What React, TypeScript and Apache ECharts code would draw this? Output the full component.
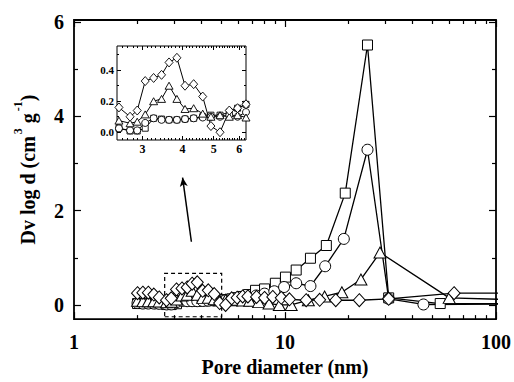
import React, { useEffect, useRef } from "react";
import * as echarts from "echarts";

// Pore diameters (nm) shared by the low-range (inset) points
const START_D = [2.0, 2.12, 2.25, 2.39];
const LOW_D = [2.535, 2.745, 2.89, 3.06, 3.25, 3.44, 3.63, 3.84, 4.07, 4.33, 4.62, 4.9, 5.23, 5.59, 5.93, 6.3];

// Squares
const SQ_START = [0.03, 0.03, 0.04, 0.03];
const SQ_LOW = [0.026, 0.008, 0.008, 0.026, 0.09, 0.085, 0.08, 0.08, 0.085, 0.09, 0.1, 0.11, 0.11, 0.13, 0.155, 0.18];
const SQ_HIGH_D = [6.7, 7.25, 8.0, 9.0, 10.05, 11.3, 13.2, 15.7, 19.3, 24.6, 31, 54.4, 150];
const SQ_HIGH = [0.22, 0.31, 0.34, 0.46, 0.59, 0.74, 0.99, 1.26, 2.37, 5.51, 0.15, 0.03, 0.03];

// Circles
const CI_START = [0.04, 0.03, 0.03, 0.03];
const CI_LOW = [0.025, 0.012, 0.012, 0.06, 0.09, 0.08, 0.08, 0.08, 0.085, 0.09, 0.095, 0.1, 0.1, 0.11, 0.1, 0.13];
const CI_HIGH_D = [6.7, 7.3, 8.0, 8.9, 9.9, 11.3, 13.2, 15.5, 19.0, 24.6, 31, 45.3, 150];
const CI_HIGH = [0.16, 0.2, 0.24, 0.29, 0.38, 0.46, 0.4, 0.82, 1.4, 3.29, 0.13, 0.01, 0.02];

// Triangles
const TR_START = [0.09, 0.08, 0.08, 0.08];
const TR_LOW = [0.075, 0.058, 0.068, 0.115, 0.2, 0.215, 0.3, 0.215, 0.15, 0.155, 0.12, 0.1, 0.11, 0.1, 0.11, 0.095];
const TR_HIGH_D = [6.8, 7.5, 8.4, 9.4, 10.7, 12.9, 15.4, 18.6, 22.9, 28.2, 60, 150];
const TR_HIGH = [0.09, 0.06, 0.03, 0.0, 0.0, 0.1, 0.18, 0.27, 0.54, 1.11, 0.15, 0.1];

// Diamonds
const DI_START = [0.25, 0.26, 0.26, 0.22];
const DI_LOW = [0.16, 0.1, 0.14, 0.33, 0.35, 0.37, 0.45, 0.48, 0.3, 0.31, 0.23, 0.04, 0.0, 0.14, 0.155, 0.18];
const DI_HIGH_D = [6.67, 7.33, 8.0, 8.75, 9.6, 10.5, 12.6, 14.6, 17.4, 22.5, 31, 63.3, 150];
const DI_HIGH = [0.18, 0.17, 0.15, 0.17, 0.15, 0.12, 0.1, 0.11, 0.1, 0.1, 0.13, 0.25, 0.25];

// Tick values
const X_MAJOR = [1, 10, 100];
const X_MINOR = [2, 3, 4, 5, 6, 7, 8, 9, 20, 30, 40, 50, 60, 70, 80, 90];
const Y_MAJOR = [0, 2, 4, 6];
const Y_MINOR = [1, 3, 5];
const INSET_X_MAJOR = [3, 4, 5, 6];
const INSET_Y_MAJOR = [0, 0.2, 0.4];
const INSET_Y_MINOR = [0.1, 0.3, 0.5];

// Annotation (data coordinates)
const ZOOM_BOX = [[2.69, -0.25], [5.01, 0.67]];
const ARROW = [[3.6, 1.34], [3.27, 2.7]];

const FONT = '"Liberation Serif", "Times New Roman", serif';

function pairs(d: number[], v: number[]) {
  return d.map((x, i) => [x, v[i]]);
}

export default function App() {
  const ref = useRef<HTMLDivElement>(null);

  useEffect(() => {
    if (!ref.current) return;
    const chart = echarts.init(ref.current, undefined, { renderer: "svg" });

    const insetMinor: number[] = [];
    for (let k = 26; k <= 62; k++) {
      if (k % 10 !== 0) insetMinor.push(k / 10);
    }

    const tickStyle = { color: "#000", width: 1.2 };
    const noLine = { show: false, onZero: false };

    const xMain = (pos: string, vals: number[], len: number, labels: boolean, extra: any = {}) => ({
      type: "log",
      logBase: 10,
      gridIndex: 0,
      min: 1,
      max: 100,
      position: pos,
      axisLine: noLine,
      splitLine: { show: false },
      axisTick: { show: true, inside: true, length: len, customValues: vals, lineStyle: tickStyle },
      axisLabel: labels
        ? {
            show: true,
            customValues: vals,
            margin: 13,
            fontFamily: FONT,
            fontWeight: "bold",
            fontSize: 20,
            color: "#000",
            formatter: (v: number) => String(Math.round(v)),
          }
        : { show: false },
      ...extra,
    });

    const yMain = (pos: string, vals: number[], len: number, labels: boolean, extra: any = {}) => ({
      type: "value",
      gridIndex: 0,
      min: -0.3,
      max: 6.04,
      position: pos,
      axisLine: noLine,
      splitLine: { show: false },
      axisTick: { show: true, inside: true, length: len, customValues: vals, lineStyle: tickStyle },
      axisLabel: labels
        ? {
            show: true,
            customValues: vals,
            margin: 10,
            fontFamily: FONT,
            fontWeight: "bold",
            fontSize: 20,
            color: "#000",
            formatter: (v: number) => String(Math.round(v)),
          }
        : { show: false },
      ...extra,
    });

    const xInset = (pos: string, vals: number[], len: number, labels: boolean) => ({
      type: "log",
      logBase: 10,
      gridIndex: 1,
      min: 2.5,
      max: 6.3,
      position: pos,
      axisLine: noLine,
      splitLine: { show: false },
      axisTick: { show: true, inside: true, length: len, customValues: vals, lineStyle: { color: "#000", width: 1 } },
      axisLabel: labels
        ? {
            show: true,
            customValues: vals,
            margin: 3,
            fontFamily: FONT,
            fontWeight: "bold",
            fontSize: 12,
            color: "#000",
            formatter: (v: number) => String(Math.round(v)),
          }
        : { show: false },
    });

    const yInset = (pos: string, vals: number[], len: number, labels: boolean) => ({
      type: "value",
      gridIndex: 1,
      min: -0.05,
      max: 0.556,
      position: pos,
      axisLine: noLine,
      splitLine: { show: false },
      axisTick: { show: true, inside: true, length: len, customValues: vals, lineStyle: { color: "#000", width: 1 } },
      axisLabel: labels
        ? {
            show: true,
            customValues: vals,
            margin: 3,
            fontFamily: FONT,
            fontWeight: "bold",
            fontSize: 11,
            color: "#000",
            formatter: (v: number) => v.toFixed(1),
          }
        : { show: false },
    });

    const mainSeries = (sym: string, size: any, d: number[], v: number[], extra: any = {}) => ({
      type: "line",
      xAxisIndex: 0,
      yAxisIndex: 0,
      data: pairs(d, v),
      symbol: sym,
      symbolSize: size,
      showAllSymbol: true,
      clip: true,
      lineStyle: { color: "#000", width: 1.3 },
      itemStyle: { color: "#fff", borderColor: "#000", borderWidth: 1 },
      emphasis: { disabled: true },
      ...extra,
    });

    const insetSeries = (sym: string, size: any, v: number[]) => ({
      type: "line",
      xAxisIndex: 8,
      yAxisIndex: 8,
      data: pairs(LOW_D, v),
      symbol: sym,
      symbolSize: size,
      showAllSymbol: true,
      clip: true,
      z: 10,
      lineStyle: { color: "#000", width: 1 },
      itemStyle: { color: "#fff", borderColor: "#000", borderWidth: 0.9 },
      emphasis: { disabled: true },
    });

    const option: any = {
      animation: false,
      backgroundColor: "#fff",
      grid: [
        {
          left: 74,
          top: 20,
          width: 424,
          height: 302,
          show: true,
          borderColor: "#000",
          borderWidth: 1.8,
          backgroundColor: "transparent",
        },
        {
          left: 117,
          top: 46,
          width: 129,
          height: 94,
          show: true,
          borderColor: "#000",
          borderWidth: 1,
          backgroundColor: "#fff",
        },
      ],
      xAxis: [
        xMain("bottom", X_MAJOR, 7, true, {
          name: "Pore diameter (nm)",
          nameLocation: "middle",
          nameGap: 37,
          nameTextStyle: { fontFamily: FONT, fontWeight: "bold", fontSize: 20, color: "#000" },
        }),
        xMain("bottom", X_MINOR, 4, false),
        xMain("top", X_MAJOR, 7, false),
        xMain("top", X_MINOR, 4, false),
        // inset axes (indices 4..)
        xInset("bottom", INSET_X_MAJOR, 4, true),
        xInset("bottom", insetMinor, 2, false),
        xInset("top", INSET_X_MAJOR, 4, false),
        xInset("top", insetMinor, 2, false),
        { type: "log", logBase: 10, gridIndex: 1, min: 2.5, max: 6.3, show: false, axisLine: { onZero: false } },
      ],
      yAxis: [
        yMain("left", Y_MAJOR, 7, true, {
          name: "{a|Dv log d (cm}{s|3}{a| g}{s|-1}{a|)}",
          nameLocation: "middle",
          nameGap: 36,
          nameRotate: 90,
          nameTextStyle: {
            rich: {
              a: { fontFamily: FONT, fontWeight: "bold", fontSize: 20, color: "#000", lineHeight: 26, verticalAlign: "bottom" },
              s: { fontFamily: FONT, fontWeight: "bold", fontSize: 12, color: "#000", lineHeight: 26, verticalAlign: "top", padding: [0, 0, 8, 2] },
            },
          },
        }),
        yMain("left", Y_MINOR, 4, false),
        yMain("right", Y_MAJOR, 7, false),
        yMain("right", Y_MINOR, 4, false),
        yInset("left", INSET_Y_MAJOR, 4, true),
        yInset("left", INSET_Y_MINOR, 2, false),
        yInset("right", INSET_Y_MAJOR, 4, false),
        yInset("right", INSET_Y_MINOR, 2, false),
        { type: "value", gridIndex: 1, min: -0.05, max: 0.556, show: false, axisLine: { onZero: false } },
      ],
      series: [
        mainSeries("rect", 10, [...START_D, ...LOW_D, ...SQ_HIGH_D], [...SQ_START, ...SQ_LOW, ...SQ_HIGH]),
        mainSeries("circle", 11, [...START_D, ...LOW_D, ...CI_HIGH_D], [...CI_START, ...CI_LOW, ...CI_HIGH]),
        mainSeries("triangle", [12, 11], [...START_D, ...LOW_D, ...TR_HIGH_D], [...TR_START, ...TR_LOW, ...TR_HIGH]),
        mainSeries("diamond", [12, 13], [...START_D, ...LOW_D, ...DI_HIGH_D], [...DI_START, ...DI_LOW, ...DI_HIGH], {
          markArea: {
            silent: true,
            itemStyle: { color: "rgba(0,0,0,0)", borderColor: "#000", borderWidth: 1.2, borderType: [4, 3] },
            label: { show: false },
            data: [[{ coord: ZOOM_BOX[0] }, { coord: ZOOM_BOX[1] }]],
          },
          markLine: {
            silent: true,
            symbol: ["none", "arrow"],
            symbolSize: [6, 9],
            label: { show: false },
            lineStyle: { color: "#000", width: 1.5, type: "solid" },
            data: [[{ coord: ARROW[0] }, { coord: ARROW[1] }]],
          },
        }),
        insetSeries("rect", 6, SQ_LOW),
        insetSeries("circle", 7, CI_LOW),
        insetSeries("triangle", [8, 7], TR_LOW),
        insetSeries("diamond", [8, 9], DI_LOW),
      ],
    };

    chart.setOption(option);
    return () => chart.dispose();
  }, []);

  return (
    <div
      ref={ref}
      style={{ position: "fixed", left: 0, top: 0, width: 514, height: 382, background: "#fff" }}
    />
  );
}
